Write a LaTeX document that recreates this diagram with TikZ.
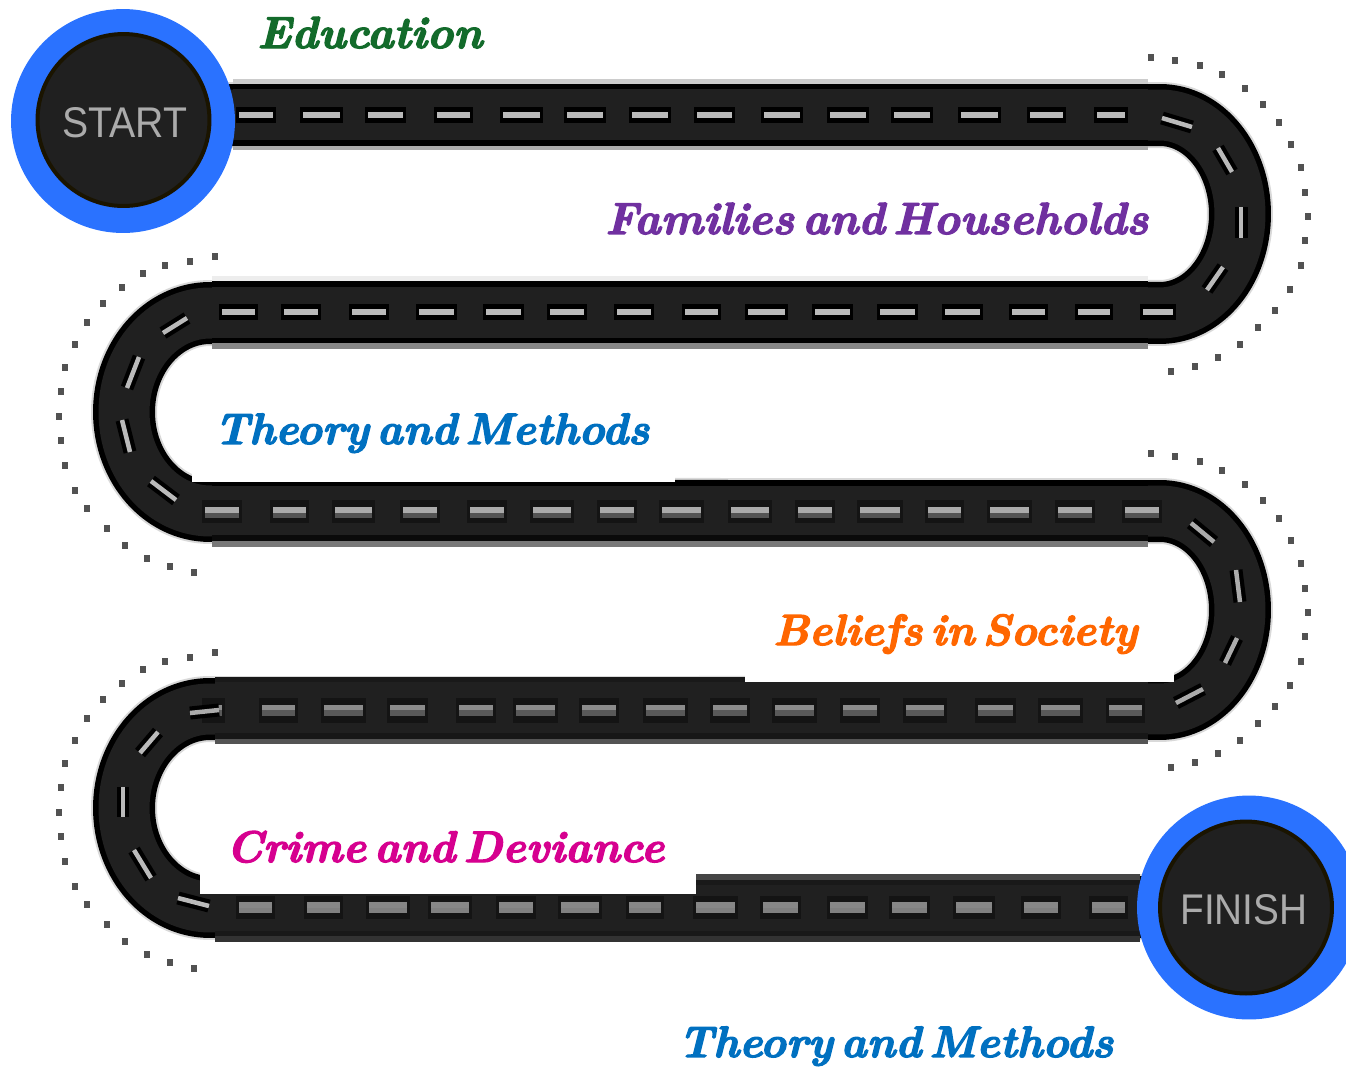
\documentclass[tikz,border=0pt]{standalone}
\usepackage{fontspec}
\setsansfont{Liberation Sans}
\newfontfamily\ttlf{Latin Modern Roman}[BoldItalicFeatures={FakeBold=3},WordSpace=0.45]
\usepackage{graphicx}
\definecolor{roadc}{HTML}{202020}
\definecolor{ringc}{HTML}{2A72FF}
\definecolor{ringedge}{HTML}{1A1400}
\definecolor{cEdu}{HTML}{136B2B}
\definecolor{cFam}{HTML}{7030A0}
\definecolor{cThe}{HTML}{0070C0}
\definecolor{cBel}{HTML}{FF6600}
\definecolor{cCri}{HTML}{D6008F}
\newcommand{\dashrow}[9]{%
  \foreach \a/\b in {#1} {
    \fill[#2] (\a-3,#3) rectangle (\b+3,#4);
    \fill[#5] (\a,#6) rectangle (\b,#7);
    \fill[#8] (\a,#7) rectangle (\b,#9);
  }}
\newcommand{\ttl}[2]{\resizebox{#1}{!}{\ttlf\bfseries\itshape #2}}
\tikzset{
  roadpath/.style={line join=round},
  ringnode/.style={circle,fill=ringc,minimum size=4.48cm,inner sep=0pt},
  signnode/.style={circle,fill=roadc,draw=ringedge,line width=0.08cm,minimum size=3.44cm,inner sep=0pt,
    text=black!33,font=\sffamily\fontsize{23}{23}\selectfont},
  signtext/.style={inner sep=0pt,text=black!33,font=\sffamily\fontsize{23}{23}\selectfont},
  titlenode/.style={anchor=base west,inner sep=0pt},
  dot/.style={fill=black!68},
}
\begin{document}
\begin{tikzpicture}[x=0.02cm,y=-0.02cm]
\path[use as bounding box,clip] (0,0) rectangle (1346,1066);
\fill[white] (0,0) rectangle (1346,1066);
% dots around the bends
\foreach \dy in {0,396} {
  \foreach \x/\y in {1151/57,1175/60,1200/65,1222/74,1245/88,1263/104,1279/122,1291/144,1301/167,1305/192,1308/216,1305/240,1301/265,1290/289,1275/310,1258/327,1240/344,1218/357,1195/366,1171/371,
                     215/256,190/261,165/265,143/273,122/287,103/303,87/322,75/344,65/367,61/391,59/416,61/440,65/465,75/490,87/508,107/528,125/545,147/558,170/566,194/572}
    \fill[dot] (\x-3,\y+\dy-3.5) rectangle (\x+3,\y+\dy+3.5);
}
% the road
\coordinate (r0) at (125,115);
\coordinate (r1) at (1160,115);
\coordinate (r2) at (1160,313);
\coordinate (r3) at (210,313);
\coordinate (r4) at (210,511);
\coordinate (r5) at (1160,511);
\coordinate (r6) at (1160,709);
\coordinate (r7) at (210,709);
\coordinate (r8) at (210,907);
\coordinate (r9) at (1245,907);
\foreach \w/\c in {1.32cm/black!15,1.24cm/black,1.02cm/roadc}
  \draw[roadpath,line width=\w,color=\c] (r0) -- (r1)
    arc[start angle=90,end angle=-90,x radius=1.6cm,y radius=1.98cm] -- (r3)
    arc[start angle=90,end angle=270,x radius=1.72cm,y radius=1.98cm] -- (r5)
    arc[start angle=90,end angle=-90,x radius=1.6cm,y radius=1.98cm] -- (r7)
    arc[start angle=90,end angle=270,x radius=1.72cm,y radius=1.98cm] -- (r9);
% straight edges of each stretch
\foreach \xa/\xb/\ya/\yb/\c in {
  233/1148/79/84/black!20,233/1148/84/88.5/black,233/1148/88.5/140/roadc,233/1148/140/145.5/black,233/1148/145.5/150/black!33,
  212/1148/276/281/black!7,212/1148/281/286.5/black,212/1148/286.5/338/roadc,212/1148/338/343/black,212/1148/343/349/black!47,
  212/1148/480/486/black,212/1148/486/535/roadc,212/1148/535/541/black!96,212/1148/541/547/black!53,
  215/1148/677/682/black!90,215/1148/682/733/roadc,215/1148/733/739/black!91,215/1148/739/744/black!67,
  215/1140/874/880/black!73,215/1140/880/885/black!90,215/1140/885/931/roadc,215/1140/931/936/black!90,215/1140/936/942/black!80}
  \fill[\c] (\xa,\ya) rectangle (\xb,\yb);
% cut-outs behind the titles
\fill[white] (192,450) rectangle (675,481.5);
\fill[white] (745,655) rectangle (1173.5,682);
\fill[white] (200,850) rectangle (696,894);
% lane marks
\dashrow{239/273,303/340,368/403,437/470,503/540,567/603,632/668,697/732,764/800,830/866,894/930,961/998,1030/1063,1097/1125}{black}{107}{123}{black!27}{112}{115}{black!27}{118}
\dashrow{222/255,284/318,352/386,419/454,486/521,550/584,617/651,685/718,748/785,815/850,880/915,945/980,1012/1045,1078/1110,1143/1173}{black}{304}{320}{black!27}{308.5}{312}{black!27}{315}
\dashrow{205/239,273/306,335/372,403/437,470/504,533/571,600/634,662/701,731/769,798/832,860/900,928/961,990/1029,1058/1092,1125/1159}{black!92}{500}{523}{black!33}{507}{512.5}{black!67}{518}
\dashrow{205/222,262/295,324/363,390/425,459/493,516/555,582/616,646/685,713/747,775/814,843/877,906/944,978/1013,1041/1080,1109/1142}{black!92}{698}{723}{black!45}{705}{710}{black!65}{716}
\dashrow{239/272,307/340,369/407,431/469,499/533,561/599,629/661,696/735,763/798,830/865,892/927,956/992,1024/1058,1092/1125}{black!92}{896}{919}{black!47}{902}{907.5}{black!50}{913}
\foreach \xa/\ya/\xb/\yb/\c in {
  1162/118/1192/127/black!27,1218/148/1232/172/black!27,1241/207/1241/238/black!27,1223/267/1207/290/black!27,
  163/333/187/318/black!27,139/357/127/388/black!27,122/420/130/452/black!27,151/481/176/500/black!27,
  1191/523/1214/542/black!33,1236/570/1240/602/black!33,1237/638/1225/663/black!33,1203/689/1176/703/black!33,
  190/713/219/710/black!33,158/732/140/753/black!27,123/787/123/817/black!27,134/850/151/878/black!27,178/898/209/906/black!27} {
  \draw[line width=0.26cm,black] (\xa,\ya) -- (\xb,\yb);
  \draw[line width=0.09cm,color=\c] (\xa,\ya) -- (\xb,\yb);
}
% start and finish
\node[ringnode] (startring) at (123,121) {};
\node[signnode] (start) at (123.5,120) {};
\node[signtext] (starttext) at (125,123) {\resizebox{2.5cm}{0.6cm}{START}};
\node[ringnode] (finishring) at (1249,907.5) {};
\node[signnode] (finish) at (1246,907.5) {};
\node[signtext] (finishtext) at (1244,910) {\resizebox{2.54cm}{0.6cm}{FINISH}};
% titles
\node[titlenode,text=cEdu] (t1) at (257,48) {\ttl{4.5cm}{Education}};
\node[titlenode,text=cFam] (t2) at (605,234) {\ttl{10.86cm}{Families and Households}};
\node[titlenode,text=cThe] (t3) at (214,444) {\ttl{8.7cm}{Theory and Methods}};
\node[titlenode,text=cBel] (t4) at (773,645) {\ttl{7.28cm}{Beliefs in Society}};
\node[titlenode,text=cCri] (t5) at (226,862) {\ttl{8.76cm}{Crime and Deviance}};
\node[titlenode,text=cThe] (t6) at (678,1057) {\ttl{8.7cm}{Theory and Methods}};
\end{tikzpicture}
\end{document}
